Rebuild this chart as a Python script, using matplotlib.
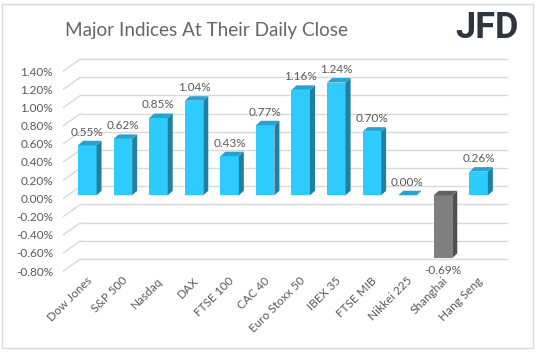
import matplotlib
matplotlib.use("Agg")
import matplotlib.pyplot as plt
from matplotlib.patches import Polygon, Rectangle

# data
categories = ["Dow Jones", "S&P 500", "Nasdaq", "DAX", "FTSE 100", "CAC 40",
              "Euro Stoxx 50", "IBEX 35", "FTSE MIB", "Nikkei 225", "Shanghai", "Hang Seng"]
values = [0.55, 0.62, 0.85, 1.04, 0.43, 0.77, 1.16, 1.24, 0.70, 0.00, -0.69, 0.26]
yticks = [1.4, 1.2, 1.0, 0.8, 0.6, 0.4, 0.2, 0.0, -0.2, -0.4, -0.6, -0.8]
title = "Major Indices At Their Daily Close"

W, H = 537, 352
FONT = ["Lato", "DejaVu Sans"]
TXT = "#595959"
GRID = "#d9d9d9"

fig = plt.figure(figsize=(W / 100, H / 100), dpi=100)
ax = fig.add_axes([63.5 / W, (H - 271) / H, (490 - 63.5) / W, 200 / H])
ax.set_xlim(-0.55, 11.44)
ax.set_ylim(-0.8, 1.4)
for s in ax.spines.values():
    s.set_visible(False)

# pixel -> data units
px_x = (11.44 + 0.55) / (490 - 63.5)
px_y = 2.2 / 200

# back wall offset (oblique 3D look)
wall_dx, wall_dy = 17 * px_x, 12 * px_y
x0, x1 = ax.get_xlim()
for v in yticks:
    ax.plot([x0 + wall_dx, x1 + wall_dx], [v + wall_dy, v + wall_dy],
            color=GRID, lw=1, clip_on=False, zorder=1)
    ax.plot([x0, x0 + wall_dx], [v, v + wall_dy],
            color=GRID, lw=1, clip_on=False, zorder=1)

ax.set_yticks(yticks)
ax.set_yticklabels([f"{v:.2f}%" for v in yticks], family=FONT, fontsize=8.5, color=TXT)
ax.tick_params(axis="y", length=0, pad=7.5)
ax.set_xticks([])

# bars
bar_dx, bar_dy = 4.25 * px_x, 3 * px_y
dep_dx, dep_dy = 5 * px_x, 4.5 * px_y
w = 18.5 * px_x
for i, v in enumerate(values):
    if v < 0:
        front, side, top = "#7f7f7f", "#505050", "#636363"
    else:
        front, side, top = "#2ecbff", "#1f80a2", "#27a3d2"
    xl = i + bar_dx - w / 2
    xr = i + bar_dx + w / 2
    lo = min(v, 0) + bar_dy
    hi = max(v, 0) + bar_dy
    if hi > lo:
        ax.add_patch(Rectangle((xl, lo), w, hi - lo, facecolor=front,
                               edgecolor="none", clip_on=False, zorder=3))
        ax.add_patch(Polygon([(xr, lo), (xr + dep_dx, lo + dep_dy),
                              (xr + dep_dx, hi + dep_dy), (xr, hi)],
                             facecolor=side, edgecolor="none", clip_on=False, zorder=3))
    ax.add_patch(Polygon([(xl, hi), (xr, hi), (xr + dep_dx, hi + dep_dy),
                          (xl + dep_dx, hi + dep_dy)],
                         facecolor=top, edgecolor="none", clip_on=False, zorder=3))
    if v < 0:
        ly = lo - 13 * px_y
    else:
        ly = hi + 13 * px_y
    ax.text(i + bar_dx, ly, f"{v:.2f}%", ha="center", va="center",
            family=FONT, fontsize=8.5, color=TXT, zorder=4)

# category labels
for i, c in enumerate(categories):
    ax.text(i + 3 * px_x, -0.8 - 4 * px_y, c, rotation=45, rotation_mode="anchor",
            ha="right", va="top", family=FONT, fontsize=8.5, color=TXT)

fig.text(65 / W, 1 - 30.5 / H, title, ha="left", va="center",
         family=FONT, fontsize=13.6, color="#666666")
fig.text(519 / W, 1 - 28.5 / H, "JFD", ha="right", va="center",
         family=["Roboto", "DejaVu Sans"], fontweight="bold", fontsize=26, color="#2f353b")

fig.patches.append(Rectangle((1.5 / W, 1 - 347.7 / H), 531.5 / W, 344.2 / H,
                             transform=fig.transFigure, fill=False,
                             edgecolor="#d9d9d9", lw=1))

fig.savefig("out.png", dpi=100)
